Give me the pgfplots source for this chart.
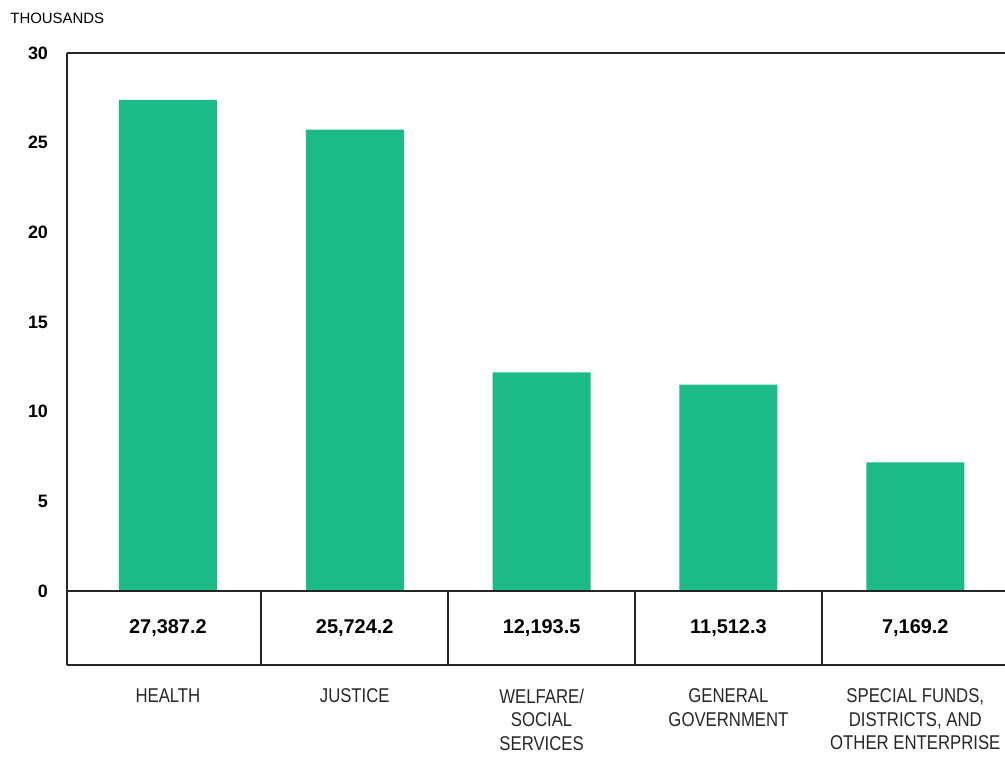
\documentclass[border=0pt]{standalone}
\usepackage{pgfplots}
\pgfplotsset{compat=1.18}
\usepackage{fontspec}
\setmainfont{Liberation Sans}
\newfontfamily\condfont[FakeStretch=0.84]{Liberation Sans}
\definecolor{barc}{RGB}{28,186,136}
\begin{document}
\begin{tikzpicture}
\useasboundingbox (-33.5bp,-46.5bp) rectangle (469bp,332.5bp);
\begin{axis}[
  at={(0,0)}, anchor=south west,
  scale only axis,
  width=469bp, height=306bp,
  xmin=-0.54, xmax=4.48,
  ymin=-4.13, ymax=30,
  ytick={0,5,10,15,20,25,30},
  xtick={0,1,2,3,4},
  xticklabels={HEALTH,JUSTICE,{WELFARE/\\SOCIAL\\SERVICES},{GENERAL\\GOVERNMENT},{SPECIAL FUNDS,\\DISTRICTS, AND\\OTHER ENTERPRISE}},
  xticklabel style={align=center, font=\condfont\fontsize{10}{11.8}\selectfont, anchor=north, yshift=-8.5bp, text=black!85},
  yticklabel style={font=\bfseries\fontsize{9}{10}\selectfont, xshift=-6bp},
  /pgf/number format/assume math mode=true,
  axis line style={draw=none},
  major tick length=0pt,
  tick style={draw=none},
  clip=false,
  ybar, bar width=49bp,
]
\addplot[fill=barc, draw=none] coordinates {(0,27.3872) (1,25.7242) (2,12.1935) (3,11.5123) (4,7.1692)};
\draw[line width=0.9bp, black!85] (axis cs:-0.54,30) -- (axis cs:4.48,30);
\draw[line width=0.9bp, black!85] (axis cs:-0.54,30) -- (axis cs:-0.54,-4.13);
\draw[line width=0.9bp, black!85] (axis cs:-0.54,0) -- (axis cs:4.48,0);
\draw[line width=0.9bp, black!85] (axis cs:-0.54,-4.13) -- (axis cs:4.48,-4.13);
\draw[line width=0.9bp, black!85] (axis cs:0.5,0) -- (axis cs:0.5,-4.13);
\draw[line width=0.9bp, black!85] (axis cs:1.5,0) -- (axis cs:1.5,-4.13);
\draw[line width=0.9bp, black!85] (axis cs:2.5,0) -- (axis cs:2.5,-4.13);
\draw[line width=0.9bp, black!85] (axis cs:3.5,0) -- (axis cs:3.5,-4.13);
\node[font=\bfseries\fontsize{10}{12}\selectfont] at (axis cs:0,-2.06) {27,387.2};
\node[font=\bfseries\fontsize{10}{12}\selectfont] at (axis cs:1,-2.06) {25,724.2};
\node[font=\bfseries\fontsize{10}{12}\selectfont] at (axis cs:2,-2.06) {12,193.5};
\node[font=\bfseries\fontsize{10}{12}\selectfont] at (axis cs:3,-2.06) {11,512.3};
\node[font=\bfseries\fontsize{10}{12}\selectfont] at (axis cs:4,-2.06) {7,169.2};
\end{axis}
\node[anchor=west, inner sep=0pt, font=\fontsize{7.5}{9}\selectfont] at (-28.5bp,323.5bp) {THOUSANDS};
\end{tikzpicture}
\end{document}
